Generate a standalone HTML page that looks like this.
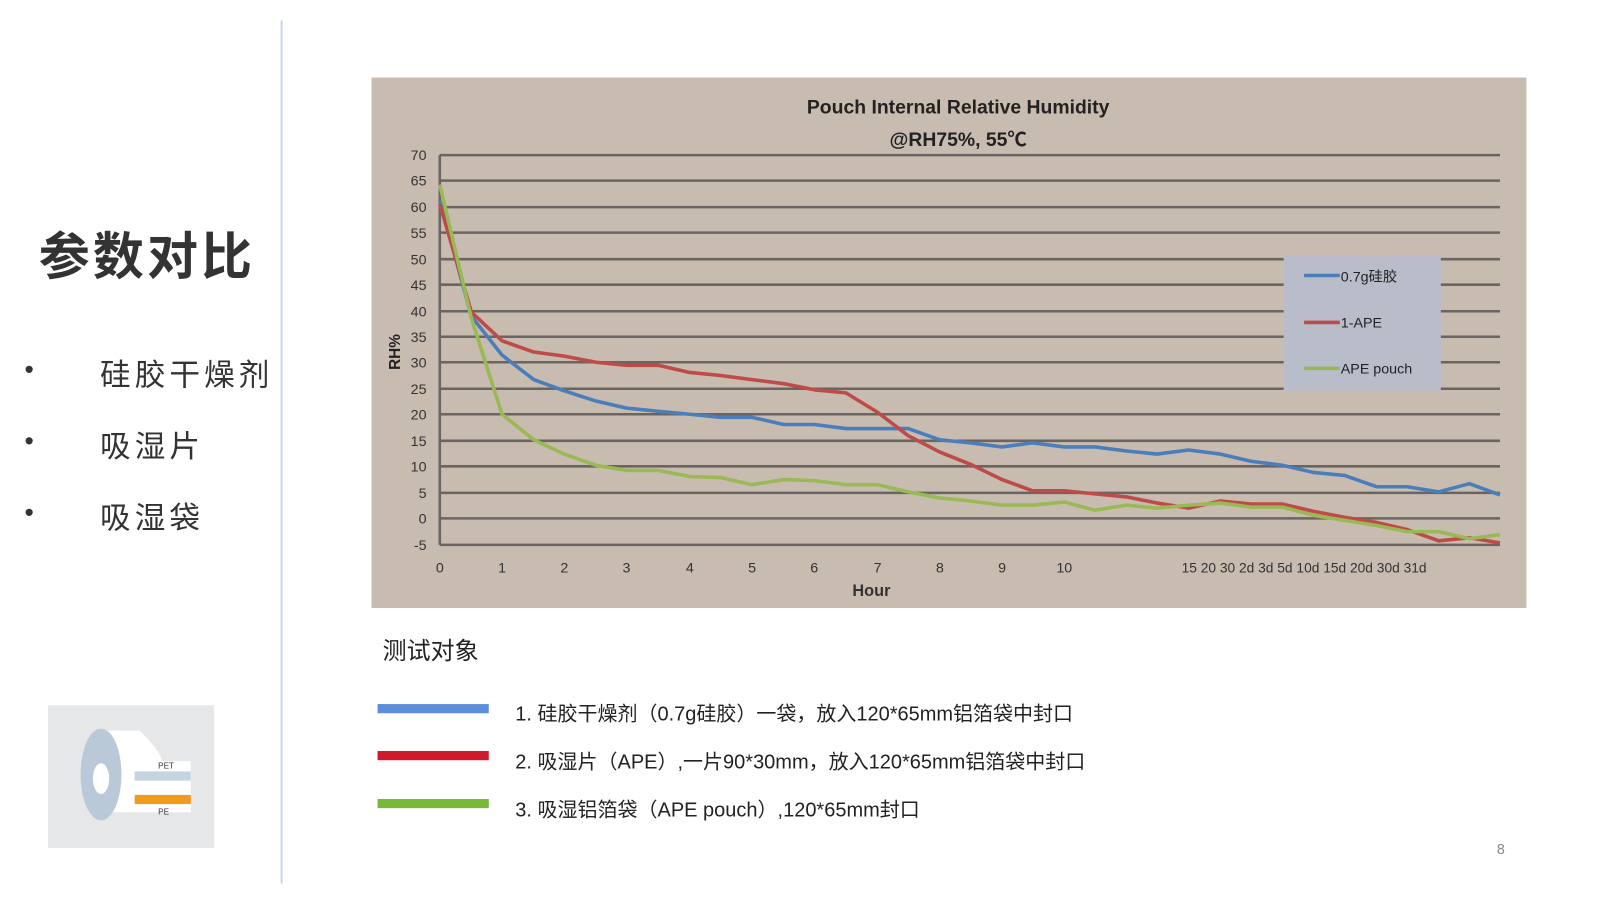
<!DOCTYPE html>
<html><head><meta charset="utf-8"><style>
body{margin:0;width:1600px;height:900px;background:#fff;position:relative;overflow:hidden;font-family:"Liberation Sans","Noto Sans CJK SC",sans-serif;}
#w{position:absolute;left:0;top:0;width:1568px;height:882px;transform:scale(1.0204);transform-origin:0 0}
.a{position:absolute;white-space:nowrap}
</style></head><body><div id="w">
<div class="a" style="left:275px;top:20px;width:2px;height:846px;background:#c5d6ea"></div>
<div class="a" style="left:38px;top:212px;font-size:50px;font-weight:bold;color:#333;letter-spacing:3px">参数对比</div>
<div class="a" style="left:24px;top:347px;font-size:26px;color:#333">•</div>
<div class="a" style="left:98px;top:343px;font-size:30px;color:#333;letter-spacing:4px">硅胶干燥剂</div>
<div class="a" style="left:24px;top:417px;font-size:26px;color:#333">•</div>
<div class="a" style="left:98px;top:413px;font-size:30px;color:#333;letter-spacing:4px">吸湿片</div>
<div class="a" style="left:24px;top:487px;font-size:26px;color:#333">•</div>
<div class="a" style="left:98px;top:483px;font-size:30px;color:#333;letter-spacing:4px">吸湿袋</div>
<svg class="a" style="left:47px;top:691px" width="163" height="140">
<rect width="163" height="140" fill="#e6e7e9"/>
<path d="M52 25 L90 25 Q110 45 112 55 L140 55 L140 105 L60 105 Z" fill="#fff"/>
<ellipse cx="52" cy="68" rx="20" ry="45" fill="#b9c9d8"/>
<ellipse cx="52" cy="72" rx="8" ry="15" fill="#fff"/>
<rect x="85" y="65" width="55" height="9" fill="#c4d4e0"/>
<rect x="85" y="88" width="55" height="9" fill="#f29a1c"/>
<text x="108" y="62" font-size="8" fill="#333">PET</text>
<text x="108" y="107" font-size="8" fill="#333">PE</text>
</svg>
<svg class="a" style="left:364px;top:76px" width="1132" height="520" viewBox="364 76 1132 520">
<rect x="364" y="76" width="1132" height="520" fill="#c8bcb1"/>
<g font-family="Liberation Sans,Noto Sans CJK SC,sans-serif" fill="#222">
<text x="939" y="111" font-size="19" font-weight="bold" text-anchor="middle">Pouch Internal Relative Humidity</text>
<text x="939" y="143" font-size="19" font-weight="bold" text-anchor="middle">@RH75%, 55℃</text>
</g>
<g stroke="#6a6562" stroke-width="2.5">
<line x1="431" y1="152" x2="1470" y2="152"/><line x1="431" y1="177" x2="1470" y2="177"/><line x1="431" y1="203" x2="1470" y2="203"/><line x1="431" y1="228" x2="1470" y2="228"/><line x1="431" y1="254" x2="1470" y2="254"/><line x1="431" y1="279" x2="1470" y2="279"/><line x1="431" y1="305" x2="1470" y2="305"/><line x1="431" y1="330" x2="1470" y2="330"/><line x1="431" y1="355" x2="1470" y2="355"/><line x1="431" y1="381" x2="1470" y2="381"/><line x1="431" y1="406" x2="1470" y2="406"/><line x1="431" y1="432" x2="1470" y2="432"/><line x1="431" y1="457" x2="1470" y2="457"/><line x1="431" y1="483" x2="1470" y2="483"/><line x1="431" y1="508" x2="1470" y2="508"/><line x1="431" y1="534" x2="1470" y2="534"/>
<line x1="431" y1="152" x2="431" y2="534"/>
</g>
<g font-family="Liberation Sans,sans-serif" font-size="14" fill="#333" text-anchor="end">
<text x="418" y="157">70</text><text x="418" y="182">65</text><text x="418" y="208">60</text><text x="418" y="233">55</text><text x="418" y="259">50</text><text x="418" y="284">45</text><text x="418" y="310">40</text><text x="418" y="335">35</text><text x="418" y="360">30</text><text x="418" y="386">25</text><text x="418" y="411">20</text><text x="418" y="437">15</text><text x="418" y="462">10</text><text x="418" y="488">5</text><text x="418" y="513">0</text><text x="418" y="539">-5</text>
</g>
<text x="392" y="345" font-family="Liberation Sans,sans-serif" font-size="15" font-weight="bold" fill="#222" transform="rotate(-90 392 345)" text-anchor="middle">RH%</text>
<g font-family="Liberation Sans,sans-serif" font-size="14" fill="#333" text-anchor="middle">
<text x="431" y="561">0</text><text x="492" y="561">1</text><text x="553" y="561">2</text><text x="614" y="561">3</text><text x="676" y="561">4</text><text x="737" y="561">5</text><text x="798" y="561">6</text><text x="860" y="561">7</text><text x="921" y="561">8</text><text x="982" y="561">9</text><text x="1043" y="561">10</text>
<text x="1278" y="561" font-size="13.5">15 20 30 2d 3d 5d 10d 15d 20d 30d 31d</text>
<text x="854" y="584" font-size="16" font-weight="bold">Hour</text>
</g>
<g fill="none" stroke-width="3.5" stroke-linejoin="round">
<polyline stroke="#4a7ebb" points="431,197 462,310 492,348 523,372 553,383 584,393 614,400 645,403 676,406 706,409 737,409 768,416 798,416 829,420 860,420 890,420 921,431 951,434 982,438 1012,434 1043,438 1073,438 1104,442 1134,445 1165,441 1196,445 1226,452 1257,456 1287,463 1318,466 1349,477 1379,477 1410,482 1440,474 1470,485"/>
<polyline stroke="#be4b48" points="431,200 462,306 492,334 523,345 553,349 584,355 614,358 645,358 676,365 706,368 737,372 768,376 798,382 829,385 860,404 890,427 921,443 951,455 982,470 1012,481 1043,481 1073,484 1104,487 1134,493 1165,498 1196,491 1226,494 1257,494 1287,501 1318,507 1349,512 1379,519 1410,530 1440,527 1470,532"/>
<polyline stroke="#98b954" points="431,181 462,312 492,406 523,431 553,445 584,456 614,461 645,461 676,467 706,468 737,475 768,470 798,471 829,475 860,475 890,482 921,488 951,491 982,495 1012,495 1043,492 1073,500 1104,495 1134,498 1165,495 1196,493 1226,497 1257,497 1287,505 1318,510 1349,515 1379,521 1410,521 1440,528 1470,524"/>
</g>
<rect x="1258" y="250" width="154" height="133" fill="#b9bdc9"/>
<g stroke-width="3.5"><line x1="1278" y1="270" x2="1313" y2="270" stroke="#4a7ebb"/><line x1="1278" y1="316" x2="1313" y2="316" stroke="#be4b48"/><line x1="1278" y1="361" x2="1313" y2="361" stroke="#98b954"/></g>
<g font-family="Liberation Sans,Noto Sans CJK SC,sans-serif" font-size="14" fill="#222">
<text x="1314" y="276">0.7g硅胶</text><text x="1314" y="321">1-APE</text><text x="1314" y="366">APE pouch</text>
</g>
</svg>
<div class="a" style="left:375px;top:619px;font-size:23.5px;color:#222">测试对象</div>
<div class="a" style="left:370px;top:690px;width:109px;height:9px;background:#5b8fd9"></div>
<div class="a" style="left:370px;top:736px;width:109px;height:9px;background:#d0192c"></div>
<div class="a" style="left:370px;top:783px;width:109px;height:9px;background:#77b83a"></div>
<div class="a" style="left:505px;top:683px;font-size:19.6px;color:#222">1. 硅胶干燥剂（0.7g硅胶）一袋，放入120*65mm铝箔袋中封口</div>
<div class="a" style="left:505px;top:730px;font-size:19.6px;color:#222">2. 吸湿片（APE）,一片90*30mm，放入120*65mm铝箔袋中封口</div>
<div class="a" style="left:505px;top:777px;font-size:19.6px;color:#222">3. 吸湿铝箔袋（APE pouch）,120*65mm封口</div>
<div class="a" style="left:1467px;top:824px;font-size:14px;color:#888">8</div>
</div></body></html>
